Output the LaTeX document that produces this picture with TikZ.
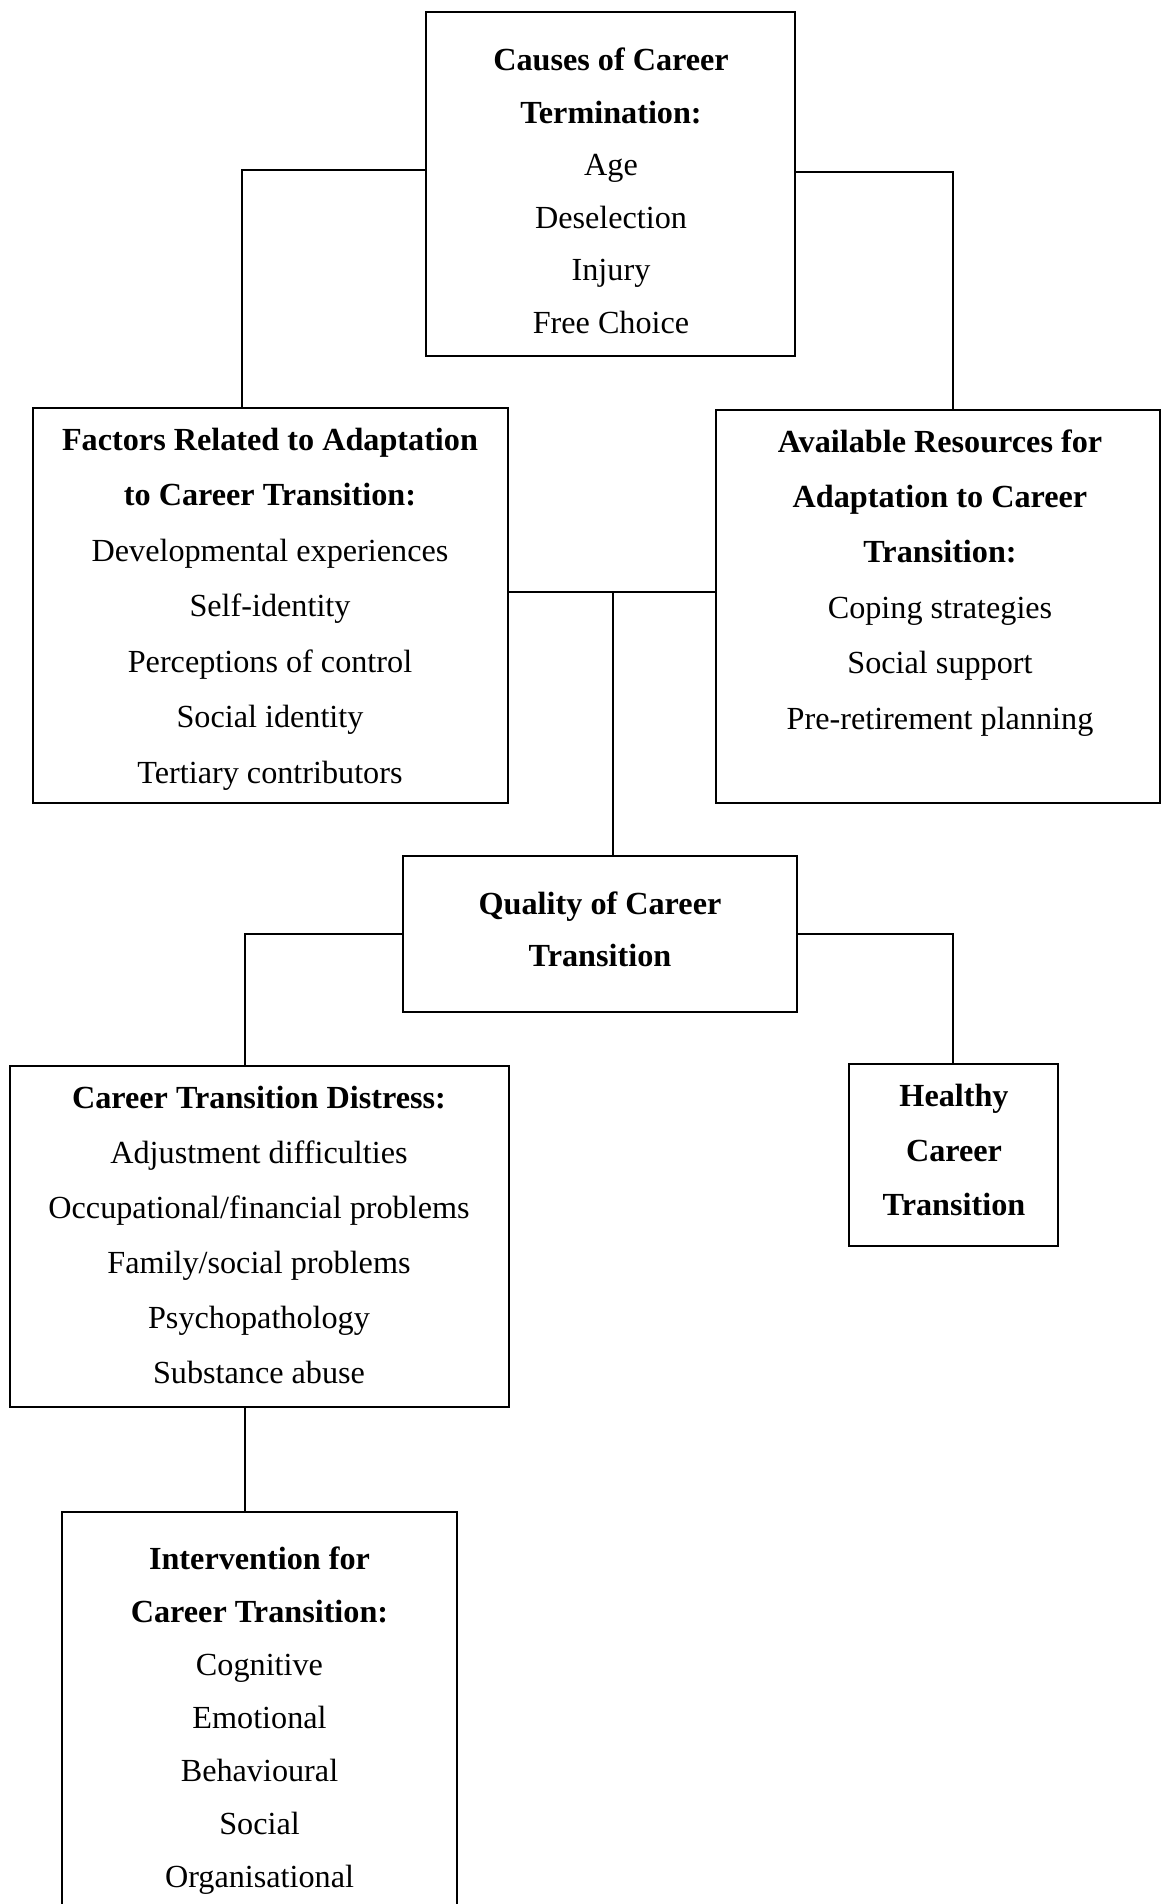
\documentclass[tikz,border=0pt]{standalone}
\usepackage{fontspec}
\setmainfont{Liberation Serif}
\usetikzlibrary{fit}

\tikzset{
  box/.style={draw, line width=1.1pt, inner sep=0pt, fit={#1}},
  txt/.style={align=center, inner sep=0pt, anchor=north, font=\fontsize{16.1}{#1}\selectfont},
  link/.style={line width=0.8pt}
}

\begin{document}
\begin{tikzpicture}[x=0.5pt, y=-0.5pt]
    \path[use as bounding box, clip] (0,0) rectangle (1162,1904);

    \node[box={(426,12) (795,356)}] (causes) {};
    \node[box={(33,408) (508,803)}] (factors) {};
    \node[box={(716,410) (1160,803)}] (available) {};
    \node[box={(403,856) (797,1012)}] (quality) {};
    \node[box={(10,1066) (509,1407)}] (distress) {};
    \node[box={(849,1064) (1058,1246)}] (healthy) {};
    \node[box={(62,1512) (457,1990)}] (intervention) {};

    \node[txt=26.3pt] (causestext) at (611,33.2) {\strut\textbf{Causes of Career}\\ \textbf{Termination:}\\ Age\\ Deselection\\ Injury\\ Free Choice};
    \node[txt=27.75pt] (factorstext) at (270,411) {\strut\textbf{Factors Related to Adaptation}\\ \textbf{to Career Transition:}\\ Developmental experiences\\ Self-identity\\ Perceptions of control\\ Social identity\\ Tertiary contributors};
    \node[txt=27.7pt] (availabletext) at (940,413) {\strut\textbf{Available Resources for}\\ \textbf{Adaptation to Career}\\ \textbf{Transition:}\\ Coping strategies\\ Social support\\ Pre-retirement planning};
    \node[txt=26.1pt] (qualitytext) at (600,877.5) {\strut\textbf{Quality of Career}\\ \textbf{Transition}};
    \node[txt=27.55pt] (distresstext) at (259,1069.4) {\strut\textbf{Career Transition Distress:}\\ Adjustment difficulties\\ Occupational/financial problems\\ Family/social problems\\ Psychopathology\\ Substance abuse};
    \node[txt=27.3pt] (healthytext) at (954,1067.8) {\strut\textbf{Healthy}\\ \textbf{Career}\\ \textbf{Transition}};
    \node[txt=26.5pt] (interventiontext) at (259.5,1532) {\strut\textbf{Intervention for}\\ \textbf{Career Transition:}\\ Cognitive\\ Emotional\\ Behavioural\\ Social\\ Organisational};

    \coordinate (join) at (613,592);

    \draw[link] (causes.west |- 0,170) -| (factors.north -| 242,0);
    \draw[link] (causes.east |- 0,172) -| (available.north -| 953,0);

    \draw[link] (factors.east |- join) -- (available.west |- join);
    \draw[link] (join) -- (quality.north -| join);

    \draw[link] (quality.west |- 0,934) -| (distress.north -| 245,0);
    \draw[link] (quality.east |- 0,934) -| (healthy.north -| 953,0);

    \draw[link] (distress.south -| 245,0) -- (intervention.north -| 245,0);
\end{tikzpicture}
\end{document}
